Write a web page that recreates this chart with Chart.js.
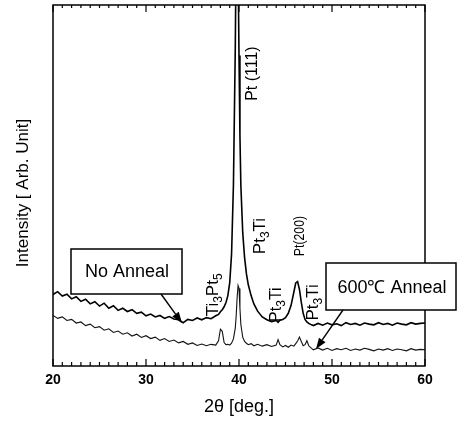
<!DOCTYPE html>
<html>
<head>
<meta charset="utf-8">
<script src="https://cdn.jsdelivr.net/npm/chart.js@4/dist/chart.umd.min.js"></script>
<style>
  body { margin: 0; background: #fff; }
  canvas { display: block; }
</style>
</head>
<body>
<canvas id="xrd" width="458" height="421"></canvas>
<script>
const FONT = "'Liberation Sans', Arial, sans-serif";

// 2theta positions (deg.)
const angles = [
  20, 20.5, 21, 21.5, 22, 22.5, 23, 23.5, 24, 24.5, 25, 25.5, 26, 26.5, 27, 27.5,
  28, 28.5, 29, 29.5, 30, 30.5, 31, 31.5, 32, 32.5, 33, 33.5, 34, 34.5, 35, 35.5,
  36, 36.5, 37, 37.5,
  37.8, 38.0, 38.2, 38.4, 38.6, 38.8, 39.0, 39.2, 39.4, 39.6, 39.7, 39.8, 39.9,
  40.0, 40.1, 40.2, 40.4, 40.6, 40.8, 41.0, 41.3, 41.6, 42.0, 42.5, 43.0, 43.5,
  44.0, 44.2, 44.4, 44.7, 45.0, 45.3, 45.6, 45.9, 46.1, 46.3, 46.5, 46.7, 46.9,
  47.1, 47.3, 47.5, 47.8,
  48, 48.5, 49, 49.5, 50, 50.5, 51, 51.5, 52, 52.5, 53, 53.5, 54, 54.5, 55, 55.5,
  56, 56.5, 57, 57.5, 58, 58.5, 59, 59.5, 60
];

// as-deposited film
const noAnneal = [
  19.8, 20.6, 19.4, 19.9, 18.6, 19.2, 17.9, 18.5, 17.2, 17.8, 16.6, 17.4, 16.0, 16.7, 15.4, 16.0,
  15.1, 15.6, 14.6, 14.9, 13.9, 14.4, 13.6, 14.0, 13.2, 13.7, 13.0, 12.8, 12.0, 12.9, 12.6, 13.3,
  12.8, 13.4, 13.1, 13.9,
  14.3, 15.0, 15.6, 16.4, 17.6, 19.5, 23.0, 31.0, 50.0, 88.0, 118.0, 130.0, 112.0,
  86.0, 64.0, 50.0, 37.0, 30.0, 25.5, 22.5, 19.5, 17.2, 15.2, 13.6, 12.8, 12.3,
  12.6, 12.1, 12.7, 12.9, 13.4, 14.6, 16.8, 20.5, 23.0, 23.4, 21.2, 17.6, 14.6,
  12.9, 12.2, 11.8, 11.4,
  11.2, 11.8, 11.3, 11.9, 11.4, 11.7, 11.2, 12.0, 11.5, 11.8, 11.3, 11.9, 11.6, 11.4, 12.0, 11.5,
  11.8, 11.3, 11.9, 11.6, 11.4, 12.0, 11.6, 11.8, 11.9
];

// after 600 C anneal
const anneal600 = [
  14.0, 13.2, 13.6, 12.6, 12.9, 11.9, 12.2, 11.2, 11.6, 10.6, 10.9, 9.9, 10.3, 9.3, 9.7, 8.8,
  9.2, 8.3, 8.8, 7.9, 8.4, 7.6, 8.0, 7.1, 7.6, 6.8, 7.2, 6.4, 6.8, 6.0, 6.4, 5.7,
  6.1, 5.6, 6.0, 5.8,
  7.0, 10.2, 9.6, 6.5, 5.9, 6.0, 5.8, 6.3, 7.5, 10.5, 14.0, 19.0, 22.3,
  21.5, 16.0, 11.5, 8.0, 6.8, 6.3, 5.9, 6.2, 5.6, 6.0, 5.5, 5.9, 5.4,
  5.8, 7.3, 5.9, 5.3, 5.7, 5.2, 5.8, 5.5, 6.2, 6.9, 8.0, 6.8, 5.6,
  5.9, 7.0, 5.6, 4.9,
  4.5, 5.0, 4.4, 4.9, 4.3, 4.8, 4.5, 4.9, 4.3, 4.7, 4.4, 4.9, 4.6, 4.2, 4.7, 4.4,
  4.8, 4.3, 4.7, 4.5, 4.2, 4.8, 4.4, 4.6, 4.5
];

// peak labels: [parts, 2theta, intensity, font size, squeeze along text]
const peakLabels = [
  [[['Pt (111)', 0]], 41.5, 81, 16, 1],
  [[['Pt', 0], ['3', 1], ['Ti', 0]], 42.3, 36, 17, 1],
  [[['Pt(200)', 0]], 46.55, 36, 15, 0.82],
  [[['Ti', 0], ['3', 1], ['Pt', 0], ['5', 1]], 37.25, 19.7, 17, 1],
  [[['Pt', 0], ['3', 1], ['Ti', 0]], 44.0, 17, 16, 1],
  [[['Pt', 0], ['3', 1], ['Ti', 0]], 47.95, 17.6, 17, 1]
];

function drawVertical(ctx, parts, x, y, size, squeeze = 1) {
  const sub = Math.round(size * 0.72);
  ctx.save();
  ctx.translate(x, y);
  ctx.rotate(-Math.PI / 2);
  ctx.scale(squeeze, 1);
  ctx.textBaseline = 'middle';
  ctx.textAlign = 'left';
  const widths = parts.map(([t, s]) => {
    ctx.font = (s ? sub : size) + 'px ' + FONT;
    return ctx.measureText(t).width;
  });
  let cx = -widths.reduce((a, b) => a + b, 0) / 2;
  parts.forEach(([t, s], i) => {
    ctx.font = (s ? sub : size) + 'px ' + FONT;
    ctx.fillText(t, cx, s ? size * 0.32 : 0);
    cx += widths[i];
  });
  ctx.restore();
}

function arrow(ctx, x1, y1, x2, y2) {
  const a = Math.atan2(y2 - y1, x2 - x1);
  const len = 11, half = 4;
  ctx.beginPath();
  ctx.moveTo(x1, y1);
  ctx.lineTo(x2 - Math.cos(a) * len, y2 - Math.sin(a) * len);
  ctx.stroke();
  ctx.beginPath();
  ctx.moveTo(x2, y2);
  ctx.lineTo(x2 - Math.cos(a) * len - Math.sin(a) * half, y2 - Math.sin(a) * len + Math.cos(a) * half);
  ctx.lineTo(x2 - Math.cos(a) * len + Math.sin(a) * half, y2 - Math.sin(a) * len - Math.cos(a) * half);
  ctx.closePath();
  ctx.fill();
}

const framePlugin = {
  id: 'frame',
  afterDraw(chart) {
    const { ctx, chartArea: area, scales: { x, y } } = chart;
    ctx.save();
    ctx.strokeStyle = '#000';
    ctx.fillStyle = '#000';
    ctx.lineWidth = 1.5;
    ctx.strokeRect(area.left, area.top, area.right - area.left, area.bottom - area.top);

    // minor / major ticks on top and bottom, pointing in
    ctx.lineWidth = 1.2;
    for (let v = x.min; v <= x.max; v++) {
      const px = x.getPixelForValue(v);
      const major = v % 10 === 0;
      ctx.beginPath();
      ctx.moveTo(px, area.top);
      ctx.lineTo(px, area.top + (major ? 7 : 3));
      ctx.moveTo(px, area.bottom);
      ctx.lineTo(px, area.bottom - (major ? 7 : 4));
      ctx.stroke();
    }

    // y title
    drawVertical(ctx, [['Intensity [ Arb. Unit]', 0]], 23, 193, 17);

    // peak labels
    peakLabels.forEach(([parts, a, v, size, sq]) => {
      drawVertical(ctx, parts, x.getPixelForValue(a), y.getPixelForValue(v), size, sq);
    });

    // legend boxes with arrows
    ctx.lineWidth = 1.5;
    ctx.fillStyle = '#fff';
    ctx.fillRect(71, 249, 111, 45);
    ctx.strokeRect(71, 249, 111, 45);
    ctx.fillRect(326, 263, 130, 47);
    ctx.strokeRect(326, 263, 130, 47);
    ctx.fillStyle = '#000';
    ctx.font = '18px ' + FONT;
    ctx.textAlign = 'center';
    ctx.textBaseline = 'middle';
    ctx.fillText('No Anneal', 127, 272);
    ctx.fillText('600\u2103 Anneal', 392, 288);

    ctx.lineWidth = 1.4;
    arrow(ctx, 161, 294, 182, 323);
    arrow(ctx, 343, 310, 316, 349);
    ctx.restore();
  }
};

const points = (vals) => angles.map((a, i) => ({ x: a, y: vals[i] }));

new Chart(document.getElementById('xrd'), {
  type: 'line',
  data: {
    datasets: [
      {
        label: 'No Anneal',
        data: points(noAnneal),
        borderColor: '#000',
        borderWidth: 1.6,
        pointRadius: 0,
        tension: 0
      },
      {
        label: '600\u2103 Anneal',
        data: points(anneal600),
        borderColor: '#111',
        borderWidth: 1.1,
        pointRadius: 0,
        tension: 0
      }
    ]
  },
  options: {
    responsive: false,
    animation: false,
    layout: { padding: { top: 5, right: 33, left: 0, bottom: 0 } },
    plugins: {
      legend: { display: false },
      tooltip: { enabled: false }
    },
    scales: {
      x: {
        type: 'linear',
        min: 20,
        max: 60,
        grid: { display: false, drawTicks: false },
        border: { display: false },
        ticks: {
          stepSize: 10,
          padding: 6,
          color: '#000',
          font: { family: FONT, size: 14, weight: 'bold' }
        },
        title: {
          display: true,
          text: '2\u03B8 [deg.]',
          color: '#000',
          font: { family: FONT, size: 18 },
          padding: { top: 0, bottom: 3 }
        },
        afterFit(scale) { scale.height = 55; }
      },
      y: {
        min: 0,
        max: 100,
        grid: { display: false, drawTicks: false },
        border: { display: false },
        ticks: { display: false },
        afterFit(scale) { scale.width = 53; }
      }
    }
  },
  plugins: [framePlugin]
});
</script>
</body>
</html>
